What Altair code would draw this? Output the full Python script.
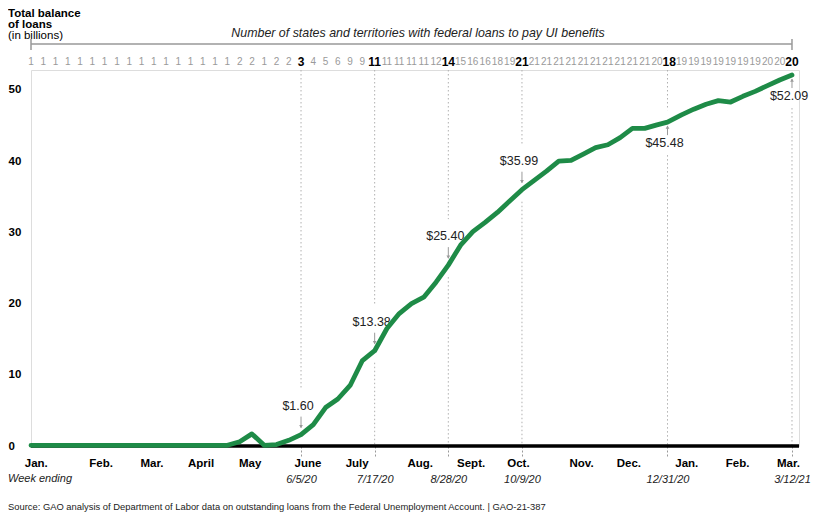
import altair as alt
import pandas as pd

# ---------------- data ----------------
week_grid = list(pd.date_range("2020-01-03", periods=63, freq="7D").strftime("%Y-%m-%d"))
week_dates = list(week_grid)
week_dates[52] = "2020-12-31"

balance = [0.1, 0.1, 0.1, 0.1, 0.1, 0.1, 0.1, 0.1, 0.1, 0.1, 0.1, 0.1, 0.1, 0.1, 0.1, 0.1, 0.1,
           0.6, 1.7, 0.1, 0.2, 0.8,
           1.60,
           3.0, 5.4, 6.6, 8.5, 12.0,
           13.38,
           16.5, 18.6, 20.0, 20.9, 23.0,
           25.40,
           28.2, 30.1, 31.4, 32.8, 34.4,
           35.99,
           37.3, 38.6, 40.0, 40.1, 41.0, 41.9, 42.3, 43.3, 44.6, 44.6, 45.1,
           45.48,
           46.5, 47.3, 48.0, 48.5, 48.3, 49.1, 49.8, 50.6, 51.4,
           52.09]

states = [1, 1, 1, 1, 1, 1, 1, 1, 1, 1, 1, 1, 1, 1, 1, 1, 1,
          2, 2, 1, 2, 2,
          3,
          4, 5, 6, 9, 9,
          11,
          11, 11, 11, 11, 12,
          14,
          15, 16, 16, 18, 19,
          21,
          21, 21, 21, 21, 21, 21, 21, 21, 21, 21, 20,
          18,
          19, 19, 19, 19, 19, 19, 19, 20, 20,
          20]

marked_weeks = [22, 28, 34, 40, 52, 62]
marked_labels = ["$1.60", "$13.38", "$25.40", "$35.99", "$45.48", "$52.09"]
marked_side = ["above", "above", "above", "above", "below", "below"]

month_names = ["Jan.", "Feb.", "Mar.", "April", "May", "June", "July", "Aug.", "Sept.",
               "Oct.", "Nov.", "Dec.", "Jan.", "Feb.", "Mar."]
month_pos = ["2020-01-06", "2020-02-12", "2020-03-12", "2020-04-09", "2020-05-07",
             "2020-06-09", "2020-07-07", "2020-08-12", "2020-09-10", "2020-10-07",
             "2020-11-12", "2020-12-09", "2021-01-11", "2021-02-09", "2021-03-10"]

title_text = "Number of states and territories with federal loans to pay UI benefits"
source_text = ("Source: GAO analysis of Department of Labor data on outstanding loans from the "
               "Federal Unemployment Account.  |  GAO-21-387")

# ---------------- layout / style ----------------
W, H = 768, 376
YMAX = 52.8
U = YMAX / H  # data units per pixel
GREEN = "#1e8b47"
GRAY = "#9a9a9a"
DOT = "#b0b0b0"
FONT = "Liberation Sans"

df = pd.DataFrame({"date": week_dates, "balance": balance})
counts = pd.DataFrame({"date": week_grid, "states": states})
counts["bold"] = [i in marked_weeks for i in range(len(counts))]

ann_rows, seg_rows, arrow_rows = [], [], []
for i, lab, side in zip(marked_weeks, marked_labels, marked_side):
    v = balance[i]
    d = week_dates[i]
    if side == "above":
        ann_rows.append({"date": d, "ty": v + 29 * U, "label": lab})
        seg_rows.append({"date": d, "y1": YMAX, "y2": v + 46 * U})
        if v - 12 * U > 0:
            seg_rows.append({"date": d, "y1": v - 12 * U, "y2": 0})
        arrow_rows.append({"date": d, "a1": v + 18 * U, "a2": v + 7 * U, "head": v + 8 * U,
                           "shape": "triangle-down"})
    else:
        ann_rows.append({"date": d, "ty": v - 21 * U, "label": lab})
        if v + 12 * U < YMAX:
            seg_rows.append({"date": d, "y1": YMAX, "y2": v + 12 * U})
        seg_rows.append({"date": d, "y1": v - 33 * U, "y2": 0})
        arrow_rows.append({"date": d, "a1": v - 4 * U, "a2": v - 13 * U, "head": v - 5 * U,
                           "shape": "triangle-up"})
ann = pd.DataFrame(ann_rows)
segs = pd.DataFrame(seg_rows)
arrows = pd.DataFrame(arrow_rows)
months = pd.DataFrame({"date": month_pos, "name": month_names})
bracket = pd.DataFrame({"date": [week_dates[0]], "date2": [week_dates[-1]]})
bracket_ends = pd.DataFrame({"date": [week_dates[0], week_dates[-1]]})

XS = alt.Scale(type="utc", domain=[alt.DateTime(year=2020, month=1, date=3, utc=True),
                                   alt.DateTime(year=2021, month=3, date=16, utc=True)])
tick_vals = []
for i in marked_weeks:
    t = pd.Timestamp(week_dates[i])
    tick_vals.append(alt.DateTime(year=t.year, month=t.month, date=t.day, utc=True))
XA = alt.Axis(values=tick_vals, labelExpr="utcFormat(datum.value, '%-m/%-d/%y')", title=None,
              grid=False, domain=False, tickDash=[2, 2], tickColor="#999999", tickSize=10,
              tickWidth=1, labelFontStyle="italic", labelFontSize=11, labelPadding=17,
              labelColor="#222222", labelFlush=False, labelOverlap=False, labelBound=False)
X = alt.X("date:T", scale=XS, axis=XA)

YS = alt.Scale(domain=[0, YMAX], nice=False, zero=True)
YA = alt.Axis(values=[0, 10, 20, 30, 40, 50], title=None, grid=False, domain=False, ticks=False,
              labelAlign="left", labelPadding=23, labelFontWeight="bold", labelFontSize=11.5,
              labelColor="black", labelBaseline="middle")


def Y(f):
    return alt.Y(f, type="quantitative", scale=YS, axis=YA)


def txt(s):
    return alt.Chart(pd.DataFrame({"t": [s]}))


dotted = alt.Chart(segs).mark_rule(color=DOT, strokeWidth=1, strokeDash=[1.5, 2.5]).encode(
    x=X, y=Y("y1"), y2="y2")
arrow_line = alt.Chart(arrows).mark_rule(color=GRAY, strokeWidth=1).encode(
    x=X, y=Y("a1"), y2="a2")
arrow_head = alt.Chart(arrows).mark_point(filled=True, size=14, color=GRAY, opacity=1).encode(
    x=X, y=Y("head"), shape=alt.Shape("shape:N", scale=None, legend=None))
value_labels = alt.Chart(ann).mark_text(fontSize=12.5, color="#222222", baseline="middle",
                                        dx=-3).encode(x=X, y=Y("ty"), text="label:N")
baseline = alt.Chart(pd.DataFrame({"zero": [0]})).mark_rule(color="black", strokeWidth=3.5).encode(
    y=Y("zero"))
line = alt.Chart(df).mark_line(color=GREEN, strokeWidth=4.8, strokeJoin="round",
                               strokeCap="round").encode(x=X, y=Y("balance"))

counts_reg = alt.Chart(counts).transform_filter("!datum.bold").mark_text(
    fontSize=10, color=GRAY, baseline="middle").encode(x=X, y=alt.value(-8), text="states:N")
counts_bold = alt.Chart(counts).transform_filter("datum.bold").mark_text(
    fontSize=12, fontWeight="bold", color="black", baseline="middle").encode(
    x=X, y=alt.value(-8), text="states:N")

bracket_line = alt.Chart(bracket).mark_rule(color="#999999", strokeWidth=1.5).encode(
    x=X, x2="date2", y=alt.value(-26))
bracket_tick = alt.Chart(bracket_ends).mark_rule(color="#999999", strokeWidth=1.5).encode(
    x=X, y=alt.value(-31), y2=alt.value(-20))

title = txt(title_text).mark_text(fontSize=12.4, fontStyle="italic", color="#222222",
                                  align="center", baseline="middle").encode(
    x=alt.value(387), y=alt.value(-37), text="t:N")
ytitle1 = txt("Total balance").mark_text(fontSize=11.5, fontWeight="bold", color="black",
                                         align="left", baseline="top").encode(
    x=alt.value(-23), y=alt.value(-62), text="t:N")
ytitle2 = txt("of loans").mark_text(fontSize=11.5, fontWeight="bold", color="black",
                                    align="left", baseline="top").encode(
    x=alt.value(-23), y=alt.value(-51), text="t:N")
ytitle3 = txt("(in billions)").mark_text(fontSize=11.5, color="black",
                                         align="left", baseline="top").encode(
    x=alt.value(-23), y=alt.value(-40), text="t:N")

month_labels = alt.Chart(months).mark_text(fontSize=11.5, fontWeight="bold", color="black",
                                           baseline="middle").encode(
    x=X, y=alt.value(H + 18), text="name:N")
week_ending = txt("Week ending").mark_text(fontSize=11, fontStyle="italic", color="#222222",
                                           align="left", baseline="middle").encode(
    x=alt.value(-23), y=alt.value(H + 33), text="t:N")
source = txt(source_text).mark_text(fontSize=9.4, color="#222222", align="left",
                                    baseline="middle").encode(
    x=alt.value(-23), y=alt.value(H + 61), text="t:N")

chart = alt.layer(
    dotted, arrow_line, arrow_head, value_labels, baseline, line,
    counts_reg, counts_bold, bracket_line, bracket_tick,
    title, ytitle1, ytitle2, ytitle3, month_labels, week_ending, source,
).properties(
    width=W, height=H,
    padding={"left": 23, "top": 62, "right": 33, "bottom": 66},
    autosize=alt.AutoSizeParams(type="none"),
).configure_view(stroke=None).configure(font=FONT)

chart.save("out.html", embed_options={"renderer": "svg", "actions": False})
